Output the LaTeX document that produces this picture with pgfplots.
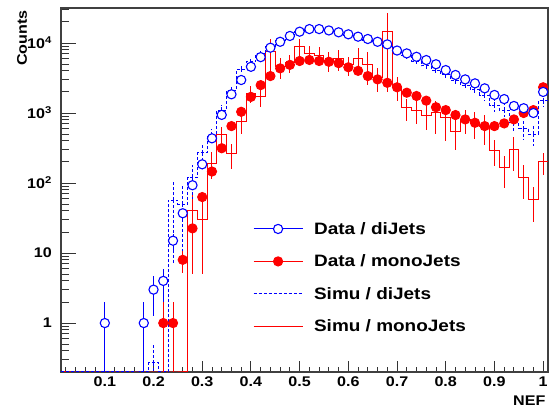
\documentclass[border=0pt]{standalone}
\usepackage{fontspec}
\setmainfont{Liberation Sans}[FakeStretch=1.15]
\usepackage{pgfplots}
\pgfplotsset{compat=1.18}
\usepackage{pgfplotstable}

\pgfplotstableread{
x y
0.10 1
0.18 1
0.20 3
0.22 4
0.24 15
0.26 37
0.28 93
0.30 185
0.32 435
0.34 940
0.36 1850
0.38 2960
0.40 4570
0.42 6280
0.44 8560
0.46 10400
0.48 12600
0.50 14500
0.52 15800
0.54 15800
0.56 15100
0.58 14200
0.60 13300
0.62 12300
0.64 11400
0.66 10400
0.68 9550
0.70 7800
0.72 7100
0.74 6350
0.76 5700
0.78 4970
0.80 4100
0.82 3490
0.84 3020
0.86 2650
0.88 2250
0.90 1810
0.92 1580
0.94 1260
0.96 1170
0.98 1000
1.00 2000
}\datadi

\pgfplotstableread{
x y
0.22 1
0.24 1
0.26 8
0.28 22.5
0.30 63
0.32 146
0.34 314
0.36 650
0.38 1040
0.40 1700
0.42 2500
0.44 3370
0.46 4340
0.48 4870
0.50 5530
0.52 5720
0.54 5530
0.56 5390
0.58 5150
0.60 4500
0.62 4000
0.64 3370
0.66 3020
0.68 2700
0.70 2330
0.72 1950
0.74 1750
0.76 1500
0.78 1210
0.80 1100
0.82 935
0.84 810
0.86 725
0.88 650
0.90 650
0.92 710
0.94 810
0.96 1000
0.98 1100
1.00 2330
}\datamono

% lo = left bin edge, c = bin centre, y = content, e = error
\pgfplotstableread{
lo c y e
0.01 0.02 0.2 0
0.03 0.04 0.2 0
0.05 0.06 0.2 0
0.07 0.08 0.2 0
0.09 0.10 0.2 0
0.11 0.12 0.2 0
0.13 0.14 0.2 0
0.15 0.16 0.2 0
0.17 0.18 0.2 0
0.19 0.20 0.27 0.25
0.21 0.22 0.2 0
0.23 0.24 57 50
0.25 0.26 50 40
0.27 0.28 120 60
0.29 0.30 270 90
0.31 0.32 480 120
0.33 0.34 1100 200
0.35 0.36 2100 300
0.37 0.38 4200 450
0.39 0.40 5400 500
0.41 0.42 7000 600
0.43 0.44 9000 700
0.45 0.46 11000 800
0.47 0.48 13000 900
0.49 0.50 14500 1000
0.51 0.52 15500 1000
0.53 0.54 15500 1000
0.55 0.56 15000 1000
0.57 0.58 14000 1000
0.59 0.60 13000 900
0.61 0.62 12000 900
0.63 0.64 11000 800
0.65 0.66 10000 800
0.67 0.68 9000 700
0.69 0.70 7800 650
0.71 0.72 6600 600
0.73 0.74 5500 550
0.75 0.76 4700 500
0.77 0.78 4100 450
0.79 0.80 3500 400
0.81 0.82 2900 380
0.83 0.84 2500 350
0.85 0.86 2150 320
0.87 0.88 1800 300
0.89 0.90 1300 250
0.91 0.92 1100 230
0.93 0.94 720 180
0.95 0.96 600 170
0.97 0.98 500 160
0.99 1.00 1500 300
1.01 1.02 1500 0
}\simudi

\pgfplotstableread{
lo c y e
0.01 0.02 0.2 0
0.03 0.04 0.2 0
0.05 0.06 0.2 0
0.07 0.08 0.2 0
0.09 0.10 0.2 0
0.11 0.12 0.2 0
0.13 0.14 0.2 0
0.15 0.16 0.2 0
0.17 0.18 0.2 0
0.19 0.20 0.2 0
0.21 0.22 0.2 0
0.23 0.24 0.2 0
0.25 0.26 0.2 0
0.27 0.28 40 35
0.29 0.30 30 25
0.31 0.32 193 80
0.33 0.34 490 150
0.35 0.36 260 100
0.37 0.38 750 250
0.39 0.40 1900 500
0.41 0.42 1700 500
0.43 0.44 7500 4000
0.45 0.46 4600 1500
0.47 0.48 5200 1500
0.49 0.50 8900 2500
0.51 0.52 7000 2000
0.53 0.54 6700 2000
0.55 0.56 5700 1800
0.57 0.58 6000 2000
0.59 0.60 4900 1500
0.61 0.62 6000 2500
0.63 0.64 5000 2500
0.65 0.66 3200 1200
0.67 0.68 14500 12500
0.69 0.70 2400 900
0.71 0.72 1180 400
0.73 0.74 1100 400
0.75 0.76 930 350
0.77 0.78 1000 500
0.79 0.80 850 450
0.81 0.82 550 250
0.83 0.84 800 300
0.85 0.86 720 300
0.87 0.88 650 300
0.89 0.90 295 120
0.91 0.92 165 80
0.93 0.94 300 150
0.95 0.96 120 60
0.97 0.98 58 30
0.99 1.00 200 70
1.01 1.02 200 0
}\simumono

\begin{document}
\begin{tikzpicture}
\useasboundingbox (0,0) rectangle (551pt,409pt);
\begin{axis}[
  at={(61pt,37pt)}, anchor=south west,
  scale only axis, width=487pt, height=364pt,
  xmin=0.01, xmax=1.01,
  ymode=log, ymin=0.2, ymax=31600,
  clip mode=individual,
  axis line style={black!75, line width=1.2pt},
  tick align=inside, tick pos=left,
  every tick/.style={black!80, line width=0.9pt},
  xtick={0.1,0.2,0.3,0.4,0.5,0.6,0.7,0.8,0.9,1.0},
  xticklabels={0.1,0.2,0.3,0.4,0.5,0.6,0.7,0.8,0.9,1},
  minor xtick={0.02,0.04,0.06,0.08,0.12,0.14,0.16,0.18,0.22,0.24,0.26,0.28,0.32,0.34,0.36,0.38,0.42,0.44,0.46,0.48,0.52,0.54,0.56,0.58,0.62,0.64,0.66,0.68,0.72,0.74,0.76,0.78,0.82,0.84,0.86,0.88,0.92,0.94,0.96,0.98},
  ytick={1,10,100,1000,10000},
  yticklabels={1,10,10\textsuperscript{2},10\textsuperscript{3},10\textsuperscript{4}},
  minor ytick={0.2,0.3,0.4,0.5,0.6,0.7,0.8,0.9,2,3,4,5,6,7,8,9,20,30,40,50,60,70,80,90,200,300,400,500,600,700,800,900,2000,3000,4000,5000,6000,7000,8000,9000,20000,30000},
  xtick style={/pgfplots/major tick length=11pt, /pgfplots/minor tick length=5.5pt},
  ytick style={/pgfplots/major tick length=15pt, /pgfplots/minor tick length=7.5pt},
  xticklabel style={font=\fontsize{14}{14}\selectfont\bfseries, inner sep=0pt, anchor=north, yshift=-5pt},
  yticklabel style={font=\fontsize{14}{14}\selectfont\bfseries, inner sep=0pt, anchor=east, xshift=-9pt},
  xlabel={NEF},
  xlabel style={at={(axis description cs:0.995,-0.079)}, anchor=east, inner sep=0pt, font=\fontsize{14}{14}\selectfont\bfseries},
  ylabel={Counts},
  ylabel style={at={(axis description cs:-0.080,0.9945)}, anchor=east, inner sep=0pt, font=\fontsize{14}{14}\selectfont\bfseries},
  legend style={at={(axis description cs:0.394,0.412)}, anchor=north west, draw=none, fill=none,
    font=\fontsize{16.5}{18}\selectfont\bfseries, row sep=19pt, inner sep=0pt,
    nodes={inner sep=0pt}, column sep=11pt, cells={anchor=west}},
  legend image code/.code={\draw[mark repeat=2,mark phase=2,#1] plot coordinates {(0pt,0pt) (24.5pt,0pt) (49pt,0pt)};},
]
% Simu / monoJets
\addplot[red, line width=1pt, mark=none, const plot, forget plot] table[x=lo, y=y] {\simumono};
\addplot[draw=none, mark=none, forget plot,
  error bars/.cd, y dir=both, y explicit, error mark=none, error bar style={draw=red, line width=1pt}] table[x=c, y=y, y error=e] {\simumono};
% Simu / diJets
\addplot[blue, line width=1pt, dash pattern=on 3pt off 2pt, mark=none, const plot, forget plot] table[x=lo, y=y] {\simudi};
\addplot[draw=none, mark=none, forget plot,
  error bars/.cd, y dir=both, y explicit, error mark=none, error bar style={draw=blue, line width=1pt, dash pattern=on 3pt off 2pt}] table[x=c, y=y, y error=e] {\simudi};
% Data / monoJets
\addplot[red, line width=1pt, only marks, mark=*, mark size=4.6pt, mark options={solid, fill=red, draw=red}, forget plot,
  error bars/.cd, y dir=both, y explicit, error mark=none, error bar style={solid, red, line width=1pt}]
  table[x=x, y=y, y error plus expr={sqrt(\thisrow{y})}, y error minus expr={min(sqrt(\thisrow{y}),0.99*\thisrow{y})}] {\datamono};
% Data / diJets
\addplot[blue, line width=1pt, only marks, mark=*, mark size=4.6pt, mark options={solid, fill=white, draw=blue, line width=1.1pt}, forget plot,
  error bars/.cd, y dir=both, y explicit, error mark=none, error bar style={solid, blue, line width=1pt}]
  table[x=x, y=y, y error plus expr={sqrt(\thisrow{y})}, y error minus expr={min(sqrt(\thisrow{y}),0.99*\thisrow{y})}] {\datadi};

\addlegendimage{blue, line width=1pt, mark=*, mark size=4.6pt, mark options={fill=white, draw=blue, line width=1.1pt}}
\addlegendentry{Data / diJets}
\addlegendimage{red, line width=1pt, mark=*, mark size=4.6pt, mark options={fill=red, draw=red}}
\addlegendentry{Data / monoJets}
\addlegendimage{blue, line width=1pt, dash pattern=on 3pt off 2pt}
\addlegendentry{Simu / diJets}
\addlegendimage{red, line width=1pt}
\addlegendentry{Simu / monoJets}
\end{axis}
\end{tikzpicture}
\end{document}
